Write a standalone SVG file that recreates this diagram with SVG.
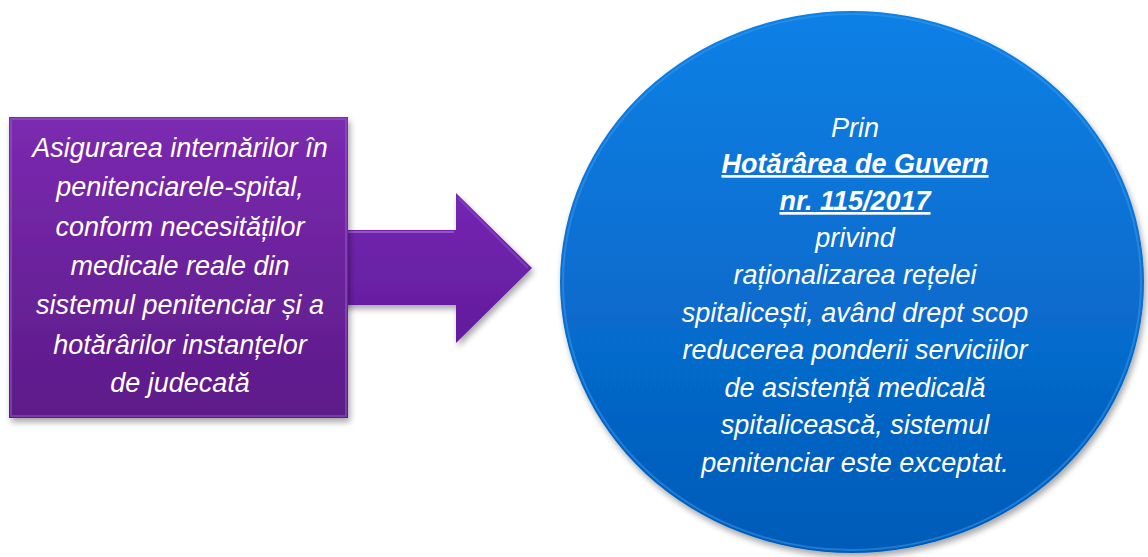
<svg xmlns="http://www.w3.org/2000/svg" width="1148" height="557" viewBox="0 0 1148 557">
<defs>
<linearGradient id="gSq" x1="0" y1="0" x2="0" y2="1">
<stop offset="0" stop-color="#7b2ab0"/>
<stop offset="1" stop-color="#5c1b88"/>
</linearGradient>
<linearGradient id="gAr" x1="0" y1="0" x2="0" y2="1">
<stop offset="0" stop-color="#7426b2"/>
<stop offset="1" stop-color="#621c9c"/>
</linearGradient>
<linearGradient id="gCi" x1="0" y1="0" x2="0" y2="1">
<stop offset="0" stop-color="#0b80e6"/>
<stop offset="1" stop-color="#045bb8"/>
</linearGradient>
<filter id="sh" x="-10%" y="-10%" width="125%" height="125%">
<feGaussianBlur in="SourceAlpha" stdDeviation="3"/>
<feOffset dx="2" dy="4"/>
<feComponentTransfer><feFuncA type="linear" slope="0.35"/></feComponentTransfer>
<feMerge><feMergeNode/><feMergeNode in="SourceGraphic"/></feMerge>
</filter>
<style>
.t{font-family:"Liberation Sans",Arial,sans-serif;font-style:italic;fill:#ffffff;text-anchor:middle;}
.l{font-size:27px;}
.c{font-size:27px;}
.b{font-weight:bold;text-decoration:underline;}
</style>
</defs>
<g id="connectors">
<path d="M300,230 L456,230 L456,193 L532,268 L456,343 L456,305 L300,305 Z" fill="url(#gAr)" filter="url(#sh)"/>
<path d="M340,232 L454,232" stroke="#a46ad6" stroke-width="2" opacity="0.7"/>
<path d="M458,198 L528,268" stroke="#8a4ccc" stroke-width="2" opacity="0.6"/>
</g>
<g id="node-left">
<rect x="9" y="117" width="339" height="301" fill="url(#gSq)" filter="url(#sh)"/>
<rect x="11" y="119" width="335" height="297" fill="none" stroke="#9a5ccc" stroke-width="2" opacity="0.5"/>
<text class="t l" x="180" y="157">Asigurarea internărilor în</text>
<text class="t l" x="180" y="196">penitenciarele-spital,</text>
<text class="t l" x="180" y="236">conform necesităților</text>
<text class="t l" x="180" y="275">medicale reale din</text>
<text class="t l" x="180" y="314">sistemul penitenciar și a</text>
<text class="t l" x="180" y="354">hotărârilor instanțelor</text>
<text class="t l" x="180" y="392">de judecată</text>
</g>
<g id="node-right">
<ellipse cx="852" cy="282" rx="292" ry="271" fill="url(#gCi)" filter="url(#sh)"/>
<ellipse cx="852" cy="282" rx="289" ry="268" fill="none" stroke="#3b9cf0" stroke-width="2" opacity="0.5"/>
<text class="t c" x="855" y="137">Prin</text>
<text class="t c b" x="855" y="173">Hotărârea de Guvern</text>
<text class="t c b" x="855" y="210">nr. 115/2017</text>
<text class="t c" x="855" y="247">privind</text>
<text class="t c" x="855" y="284">raționalizarea rețelei</text>
<text class="t c" x="855" y="322">spitalicești, având drept scop</text>
<text class="t c" x="855" y="359">reducerea ponderii serviciilor</text>
<text class="t c" x="855" y="397">de asistență medicală</text>
<text class="t c" x="855" y="434">spitalicească, sistemul</text>
<text class="t c" x="855" y="472">penitenciar este exceptat.</text>
</g>
</svg>
